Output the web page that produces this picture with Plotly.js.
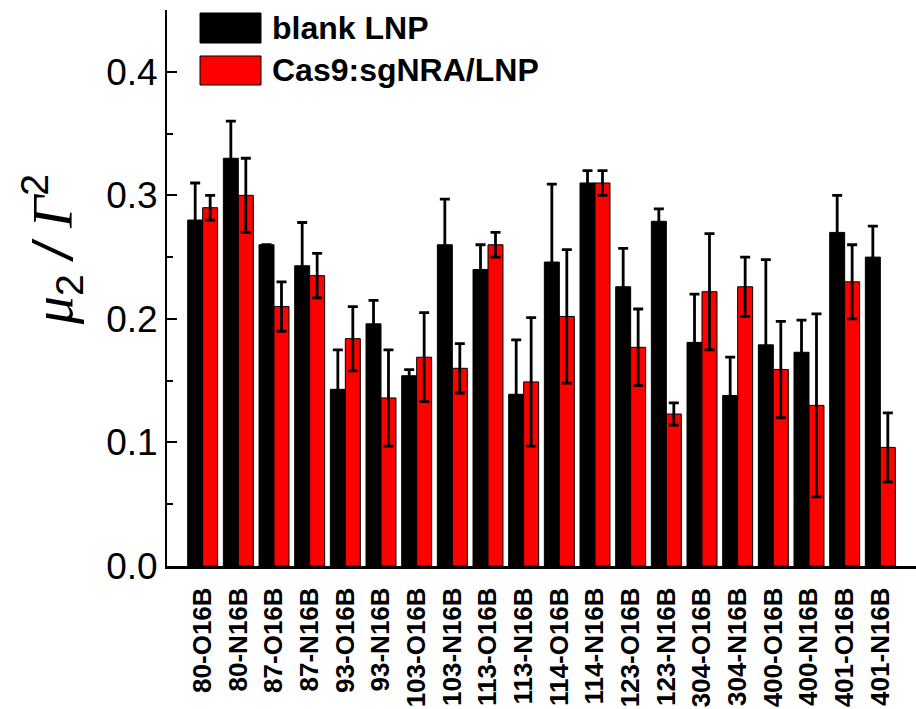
<!DOCTYPE html>
<html>
<head>
<meta charset="utf-8">
<script src="https://cdn.plot.ly/plotly-3.0.1.min.js"></script>
<style>html,body{margin:0;padding:0;background:#fff;}#chart{width:916px;height:709px;}</style>
</head>
<body>
<div id="chart"></div>
<script>
const categories = ["80-O16B","80-N16B","87-O16B","87-N16B","93-O16B","93-N16B","103-O16B","103-N16B","113-O16B","113-N16B","114-O16B","114-N16B","123-O16B","123-N16B","304-O16B","304-N16B","400-O16B","400-N16B","401-O16B","401-N16B"];
const blankValues = [0.280,0.330,0.260,0.243,0.143,0.196,0.154,0.260,0.240,0.139,0.246,0.310,0.226,0.279,0.181,0.138,0.179,0.173,0.270,0.250];
const blankErrors = [0.030,0.030,0.000,0.035,0.032,0.019,0.005,0.037,0.020,0.044,0.063,0.010,0.031,0.010,0.039,0.031,0.069,0.026,0.030,0.025];
const cas9Values = [0.290,0.300,0.210,0.235,0.184,0.136,0.169,0.160,0.260,0.149,0.202,0.310,0.177,0.123,0.222,0.226,0.159,0.130,0.230,0.096];
const cas9Errors = [0.010,0.030,0.020,0.018,0.026,0.039,0.036,0.020,0.010,0.052,0.054,0.010,0.031,0.009,0.047,0.024,0.039,0.074,0.030,0.028];
const seriesNames = ["blank LNP","Cas9:sgNRA/LNP"];
const seriesColors = ["#000000","#FF0000"];

const xIdx = categories.map((c,i)=>i);
const errStyle = {type:'data', visible:true, color:'#000', thickness:2.8, width:5};

const traces = [
  {type:'bar', name:seriesNames[0], x:xIdx, y:blankValues, showlegend:false,
   marker:{color:seriesColors[0], line:{color:'#000000', width:1}},
   error_y:Object.assign({array:blankErrors}, errStyle)},
  {type:'bar', name:seriesNames[1], x:xIdx, y:cas9Values, showlegend:false,
   marker:{color:seriesColors[1], line:{color:'#000000', width:1}},
   error_y:Object.assign({array:cas9Errors}, errStyle)}
];

// legend drawn as shapes (swatches) + annotations (labels)
const legendRows = [{y0:0.9406, y1:0.9946, ty:0.9676},{y0:0.8651, y1:0.9173, ty:0.892}];
const shapes = legendRows.map((r,i)=>({type:'rect', xref:'paper', yref:'paper',
  x0:0.0441, x1:0.1255, y0:r.y0, y1:r.y1, fillcolor:seriesColors[i], line:{color:'#000', width:1}}));
const annotations = legendRows.map((r,i)=>({xref:'paper', yref:'paper', x:0.1375, y:r.ty,
  xanchor:'left', yanchor:'middle', showarrow:false, text:seriesNames[i],
  font:{size:32, weight:'bold', family:'Liberation Sans, Arial, sans-serif', color:'#000'}}));

const layout = {
  width:916, height:709,
  margin:{l:167, r:0, t:10, b:143},
  paper_bgcolor:'#fff', plot_bgcolor:'#fff',
  barmode:'group', bargap:0.16, bargroupgap:0,
  font:{family:'Liberation Sans, Arial, sans-serif', color:'#000'},
  showlegend:false,
  shapes:shapes, annotations:annotations,
  xaxis:{range:[-1,20], tickmode:'array', tickvals:xIdx, ticktext:categories,
         tickangle:-90, tickfont:{size:26, weight:'bold', family:'Liberation Sans, Arial, sans-serif'},
         showline:true, linecolor:'#000', linewidth:3, ticks:'', showgrid:false, zeroline:false,
         ticklabelstandoff:8},
  yaxis:{range:[0,0.45], dtick:0.1, tick0:0, tickformat:'.1f',
         tickfont:{size:37, family:'Liberation Sans, Arial, sans-serif'},
         ticks:'inside', ticklen:10, tickwidth:2, tickcolor:'#000',
         minor:{dtick:0.05, ticks:'inside', ticklen:6, tickwidth:2, tickcolor:'#000'},
         showline:true, linecolor:'#000', linewidth:2, showgrid:false, zeroline:false,
         title:{text:'&nbsp;&nbsp;&nbsp;&nbsp;&nbsp;<span style="font-family:Liberation Serif"><i>μ</i></span><sub>2</sub> <i>/</i> <span style="font-family:Liberation Serif"><i>Γ</i></span><sup>2</sup>',
                font:{size:56, family:'Liberation Sans, Arial, sans-serif'}, standoff:16}}
};

Plotly.newPlot('chart', traces, layout, {displayModeBar:false, staticPlot:true});
</script>
</body>
</html>
